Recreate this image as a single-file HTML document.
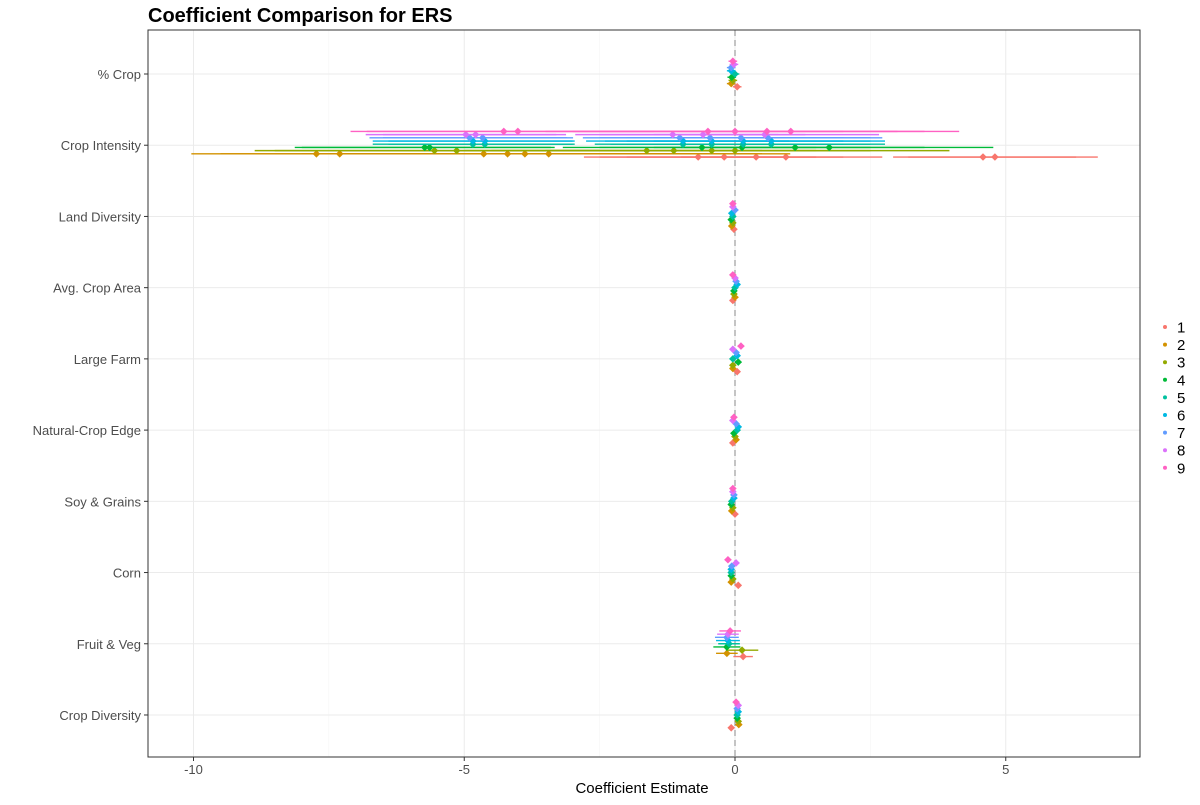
<!DOCTYPE html>
<html><head><meta charset="utf-8"><style>
body{margin:0;background:#fff;font-family:"Liberation Sans",sans-serif;}
svg text{font-family:"Liberation Sans",sans-serif;}
</style></head><body>
<svg id="chart" width="1200" height="800">
<text x="148" y="22" font-size="20" font-weight="bold" fill="#000">Coefficient Comparison for ERS</text>
<g id="grid"></g>
<g id="marks"></g>
<rect x="148" y="30" width="992" height="727" fill="none" stroke="#333" stroke-width="1"/>
<g id="axes"></g>
<text x="642" y="793" font-size="15" text-anchor="middle" fill="#000">Coefficient Estimate</text>
<g id="legend"></g>
</svg>
<script>
const rows = ["% Crop","Crop Intensity","Land Diversity","Avg. Crop Area","Large Farm","Natural-Crop Edge","Soy & Grains","Corn","Fruit & Veg","Crop Diversity"];
const xTicks = [-10,-5,0,5];
const models = ["1","2","3","4","5","6","7","8","9"];
const colors = ["#F8766D","#D39200","#93AA00","#00BA38","#00C19F","#00B9E3","#619CFF","#DB72FB","#FF61C3"];
// small-row estimates, model 1..9
const estPctCrop = [0.04,-0.07,-0.04,-0.06,0,-0.07,-0.07,-0.02,-0.04];
const estLandDiv = [-0.02,-0.06,-0.04,-0.07,-0.04,-0.06,0,-0.04,-0.04];
const estAvgArea = [-0.04,0,-0.02,-0.02,0,0.04,0.02,0,-0.04];
const estLargeFarm = [0.04,-0.04,-0.04,0.06,-0.04,0.04,0.02,-0.04,0.11];
const estNatEdge = [-0.04,0.02,0,-0.02,0.04,0.06,0.02,-0.04,-0.02];
const estSoy = [0,-0.06,-0.04,-0.07,-0.06,-0.02,-0.02,-0.04,-0.04];
const estCorn = [0.06,-0.07,-0.04,-0.07,-0.07,-0.07,-0.06,0.02,-0.13];
const estFruit = [0.15,-0.15,0.13,-0.15,-0.11,-0.13,-0.15,-0.13,-0.09];
const estCropDiv = [-0.07,0.07,0.06,0.04,0.04,0.06,0.04,0.06,0.02];
const hwSmall = [0.08,0.1,0.06,0.06,0.06,0.06,0.06,0.06,0.06,0.06];
const hwFruit = [0.18,0.2,0.3,0.25,0.2,0.22,0.22,0.2,0.2];
// Crop Intensity: several estimates per model
const ciEst = [
 [-0.68,-0.20,0.39,0.94,4.58,4.80],
 [-7.73,-7.30,-4.64,-4.20,-3.88,-3.44],
 [-5.55,-5.14,-1.63,-1.13,-0.43,0],
 [-5.73,-5.64,-0.61,0.13,1.11,1.74],
 [-4.84,-4.62,-0.96,-0.43,0.15,0.67],
 [-4.84,-4.62,-0.96,-0.43,0.15,0.67],
 [-4.90,-4.66,-1.02,-0.46,0.11,0.61],
 [-4.97,-4.79,-1.15,-0.59,0.55],
 [-4.27,-4.01,-0.50,0,0.59,1.03]
];
const ciLo = [
 [-2.79,-2.5,-2.0,-1.0,2.92,3.2],
 [-10.04,-9.5,-8.0,-7.5,-7.0,-6.5],
 [-8.87,-8.5,-5.0,-4.5,-3.5,-3.0],
 [-8.13,-8.0,-3.18,-2.5,-1.5,-1.0],
 [-6.69,-6.4,-2.59,-2.3,-2.0,-1.5],
 [-6.69,-6.4,-2.75,-2.4,-2.0,-1.5],
 [-6.75,-6.5,-2.81,-2.5,-2.0,-1.5],
 [-6.82,-6.5,-2.95,-2.5,-1.5],
 [-7.10,-6.8,-3.5,-3.0,-2.5,-2.0]
];
const ciHi = [
 [1.0,1.5,2.0,2.72,6.3,6.7],
 [-4.0,-3.5,-1.0,-0.5,0.5,1.02],
 [-3.0,-2.5,0.5,1.5,2.5,3.96],
 [-3.33,-3.4,1.5,2.5,3.5,4.77],
 [-2.96,-3.0,1.0,2.0,2.5,2.77],
 [-2.96,-3.0,1.0,2.0,2.5,2.77],
 [-2.99,-3.1,1.0,2.0,2.5,2.72],
 [-3.12,-3.3,0.8,1.3,2.66],
 [-2.0,-1.5,2.0,3.0,3.5,4.14]
];
const smallRows = {0:estPctCrop,2:estLandDiv,3:estAvgArea,4:estLargeFarm,5:estNatEdge,6:estSoy,7:estCorn,8:estFruit,9:estCropDiv};

const NS="http://www.w3.org/2000/svg";
const X0=148,X1=1140,Y0=30,Y1=757;
const xs=v=>735+v*54.15;
const ys=i=>74+i*71.22;
const dy=m=>(4-m)*3.2;
function mk(tag,attrs,parent){const e=document.createElementNS(NS,tag);for(const k in attrs)e.setAttribute(k,attrs[k]);parent.appendChild(e);return e;}
const grid=document.getElementById('grid'),marks=document.getElementById('marks'),axes=document.getElementById('axes'),legend=document.getElementById('legend');
const gx=[-12.5,-10,-7.5,-5,-2.5,0,2.5,5,7.5];
gx.forEach(v=>{const x=xs(v);if(x<X0||x>X1)return;const major=xTicks.includes(v);
 const l=mk('line',{x1:x,x2:x,y1:Y0,y2:Y1,stroke:major?'#ebebeb':'#f5f5f5','stroke-width':major?1:0.6},grid);
 
 });
rows.forEach((r,i)=>{const y=ys(i);
 const l=mk('line',{x1:X0,x2:X1,y1:y,y2:y,stroke:'#ebebeb','stroke-width':1},grid);
 
 
 const t=mk('text',{x:141,y:y+5,'font-size':13,'text-anchor':'end',fill:'#4d4d4d'},axes);t.textContent=r;
 
 
 const tk=mk('line',{x1:144,x2:148,y1:y,y2:y,stroke:'#333'},axes);
 
 });
xTicks.forEach(v=>{const x=xs(v);
 const t=mk('text',{x:x,y:774,'font-size':13,'text-anchor':'middle',fill:'#4d4d4d'},axes);t.textContent=v;
 
 
 const tk=mk('line',{x1:x,x2:x,y1:757,y2:761,stroke:'#333'},axes);
 
 });
const z=mk('line',{x1:xs(0),x2:xs(0),y1:Y0,y2:Y1,stroke:'#888','stroke-dasharray':'6,4','stroke-width':1},grid);


function point(x,y,c){
 const p=mk('path',{d:`M${x-2.8},${y}L${x},${y-2.8}L${x+2.8},${y}L${x},${y+2.8}Z`,fill:c,stroke:c,'stroke-width':1.4},marks);
 
 }
function bar(lo,hi,y,c){
 const l=mk('line',{x1:xs(lo),x2:xs(hi),y1:y,y2:y,stroke:c,'stroke-width':1.4},marks);
 
 }
for(const k in smallRows){const i=+k,arr=smallRows[k];
 arr.forEach((v,m)=>{const y=ys(i)+dy(m);const hw=i===8?hwFruit[m]:hwSmall[i];
  bar(v-hw,v+hw,y,colors[m]);point(xs(v),y,colors[m]);});}
ciEst.forEach((list,m)=>{const y=ys(1)+dy(m)-1;
 list.forEach((v,j)=>bar(ciLo[m][j],ciHi[m][j],y,colors[m]));
 list.forEach(v=>point(xs(v),y,colors[m]));});
models.forEach((lab,m)=>{const y=327+m*17.6;
 const c=mk('circle',{cx:1165,cy:y,r:2,fill:colors[m]},legend);
 
 
 const t=mk('text',{x:1177,y:y+5.5,'font-size':15,fill:'#000'},legend);t.textContent=lab;
 
 });
</script>
</body></html>
